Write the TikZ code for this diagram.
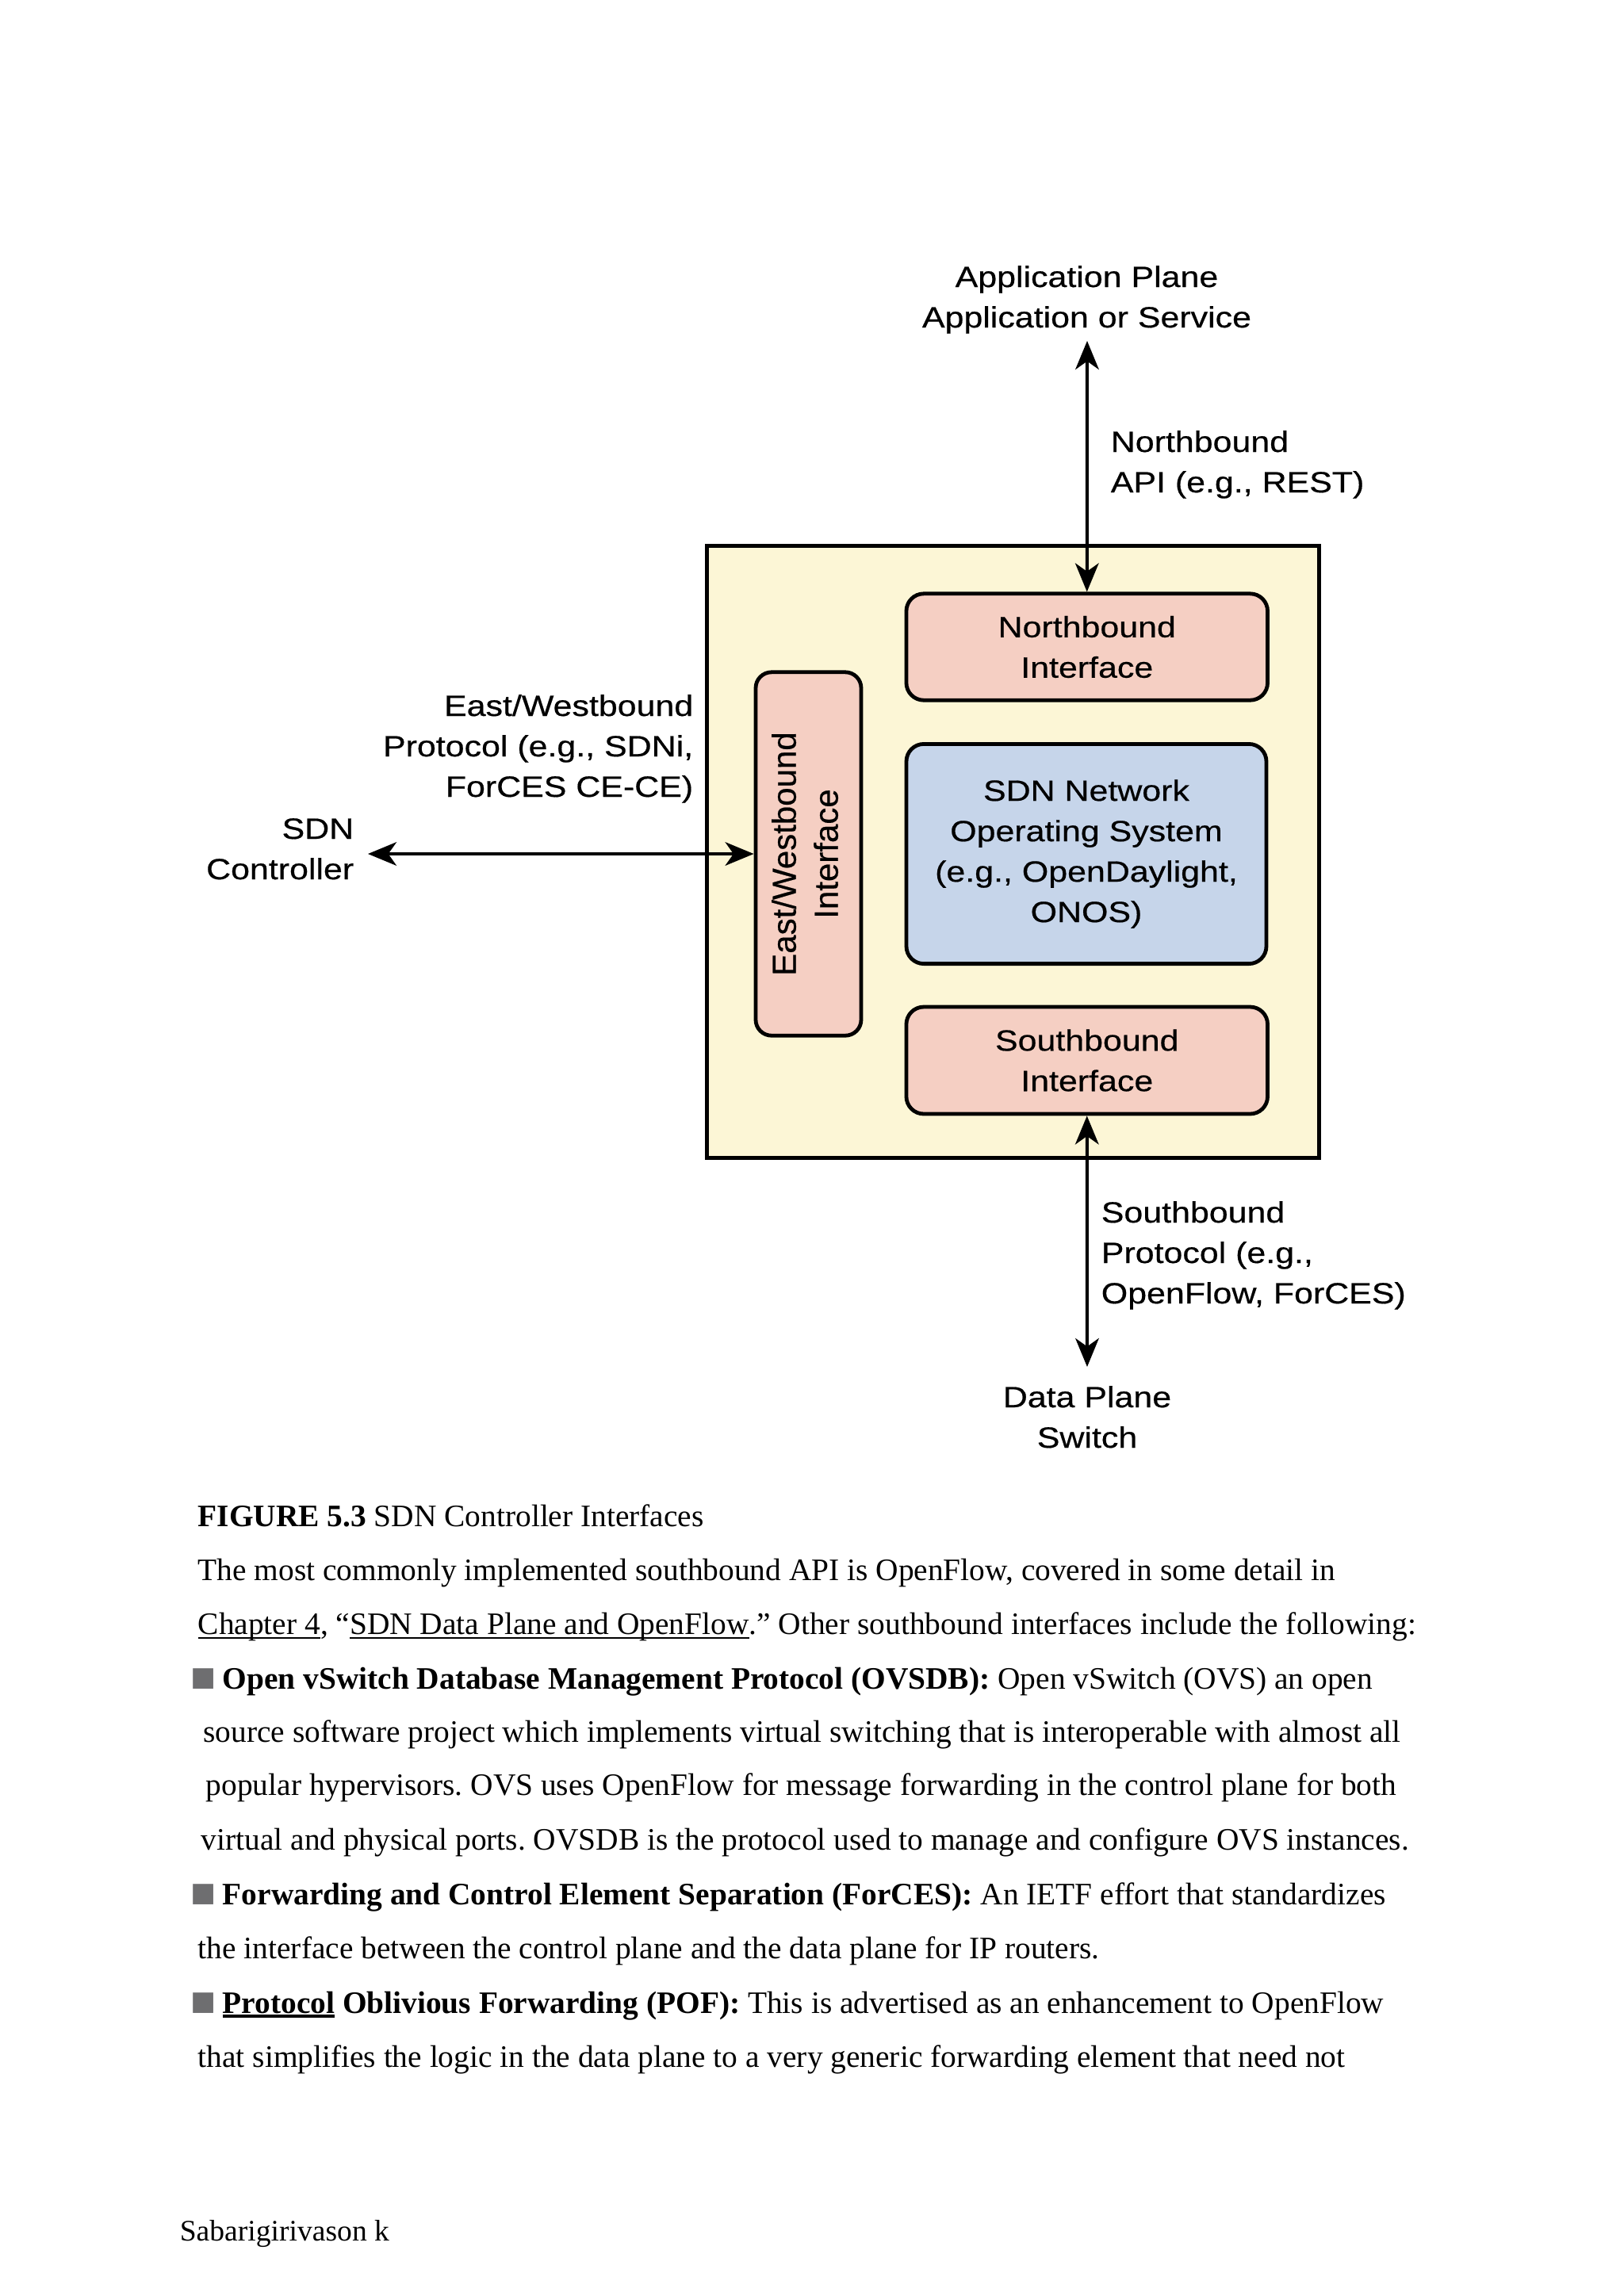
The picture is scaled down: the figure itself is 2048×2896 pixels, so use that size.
\documentclass[tikz,border=0pt]{standalone}
\usepackage{fontspec}
\setmainfont{Liberation Serif}
\newfontfamily\diagfont[FakeStretch=1.16,FakeBold=0.5]{Liberation Sans}
\newfontfamily\diagrot[FakeBold=0.5]{Liberation Sans}
\usepackage{graphicx}
\usetikzlibrary{arrows.meta}
\definecolor{planeyellow}{HTML}{FCF6D6}
\definecolor{ifsalmon}{HTML}{F5CFC3}
\definecolor{nosblue}{HTML}{C6D5EA}
\definecolor{bulletgray}{HTML}{6E6E70}
\newcommand\mlines[2]{\begin{tabular}[t]{@{}#1@{}}#2\end{tabular}}
\newcommand\bsq{\hspace*{-1.9pt}{\color{bulletgray}\raisebox{-0.9pt}{\scalebox{1.35}{■}}}\hspace{-0.5pt}}
\newcommand\ulbar[2][0.5pt]{\setbox0\hbox{#2}\rlap{\rule[-1.4pt]{\wd0}{#1}}\box0\relax}
\frenchspacing
\begin{document}
\begin{tikzpicture}[x=0.25pt,y=-0.25pt,
  diag/.style={font=\diagfont\fontsize{9.25pt}{12.75pt}\selectfont, inner sep=0pt},
  body/.style={font=\frenchspacing\fontsize{9.85pt}{17pt}\selectfont, inner sep=0pt, anchor=base west},
  ibox/.style={draw=black, line width=1.2pt, rounded corners=5.5pt, inner sep=0pt, align=center},
  arr/.style={line width=1pt, arrows={Stealth[length=9pt,width=7.4pt,inset=2.6pt]-Stealth[length=9pt,width=7.4pt,inset=2.6pt]}}]
\useasboundingbox (0,0) rectangle (2048,2896);
\fill[white] (0,0) rectangle (2048,2896);

% controller container
\node[draw=black, line width=1.25pt, fill=planeyellow, minimum width=193pt, minimum height=193pt, inner sep=0pt] (ctrl) at (1277,1074) {};

% inner boxes
\node[ibox, diag, fill=ifsalmon, minimum width=113.9pt, minimum height=33.6pt] (nb) at (1370.75,816) {Northbound\\Interface};
\node[ibox, diag, fill=nosblue, minimum width=113.5pt, minimum height=69.3pt] (nos) at (1370,1077) {SDN Network\\Operating System\\(e.g., OpenDaylight,\\ONOS)};
\node[ibox, diag, fill=ifsalmon, minimum width=113.9pt, minimum height=33.75pt] (sb) at (1370.75,1337.5) {Southbound\\Interface};
\node[ibox, fill=ifsalmon, rounded corners=5pt, minimum width=33.25pt, minimum height=114.6pt, font=\diagrot\fontsize{10.5pt}{13.25pt}\selectfont] (ew) at (1019.5,1077) {\rotatebox{90}{\mlines{c}{East/Westbound\\Interface}}};

% outside labels
\node[diag, anchor=base] (app) at (1370.5,362) {\mlines{c}{Application Plane\\Application or Service}};
\node[diag, anchor=base west] (nbapi) at (1400,570) {\mlines{l}{Northbound\\API (e.g., REST)}};
\node[diag, anchor=base east] (ewp) at (875,903) {\mlines{r}{East/Westbound\\Protocol (e.g., SDNi,\\ForCES CE-CE)}};
\node[diag, anchor=base east] (ctl) at (447,1058) {\mlines{r}{SDN\\Controller}};
\node[diag, anchor=base west] (sbp) at (1388,1542) {\mlines{l}{Southbound\\Protocol (e.g.,\\OpenFlow, ForCES)}};
\node[diag, anchor=base] (dp) at (1371,1775) {\mlines{c}{Data Plane\\Switch}};

% connector ends
\coordinate (apptip) at (1371,430);
\coordinate (ctltip) at (464,1077);
\coordinate (dptip) at (1371,1724);

\draw[arr] (apptip) -- (nb.north);
\draw[arr] (ctltip) -- (ew.west);
\draw[arr] (sb.south) -- (dptip);

% body text
\node[body] (t0) at (249,1925) {\textbf{FIGURE 5.3} SDN Controller Interfaces};
\node[body] (t1) at (249,1993) {The most commonly implemented southbound API is OpenFlow, covered in some detail in};
\node[body] (t2) at (249,2061) {\ulbar{Chapter 4}, “\ulbar{SDN Data Plane and OpenFlow}.” Other southbound interfaces include the following:};
\node[body] (t3) at (247.6,2130) {\bsq{} \textbf{Open vSwitch Database Management Protocol (OVSDB):} Open vSwitch (OVS) an open};
\node[body] (t4) at (255.7,2197.5) {source software project which implements virtual switching that is interoperable with almost all};
\node[body] (t5) at (259,2264) {popular hypervisors. OVS uses OpenFlow for message forwarding in the control plane for both};
\node[body] (t6) at (253,2333.5) {virtual and physical ports. OVSDB is the protocol used to manage and configure OVS instances.};
\node[body] (t7) at (247.6,2402) {\bsq{} \textbf{Forwarding and Control Element Separation (ForCES):} An IETF effort that standardizes};
\node[body] (t8) at (249,2470) {the interface between the control plane and the data plane for IP routers.};
\node[body] (t9) at (247.6,2539) {\bsq{} \textbf{\ulbar[0.8pt]{Protocol} Oblivious Forwarding (POF):} This is advertised as an enhancement to OpenFlow};
\node[body] (t10) at (249,2607) {that simplifies the logic in the data plane to a very generic forwarding element that need not};
\node[body, font=\fontsize{9.4pt}{12pt}\selectfont] (foot) at (226,2826) {Sabarigirivason k};
\end{tikzpicture}
\end{document}
